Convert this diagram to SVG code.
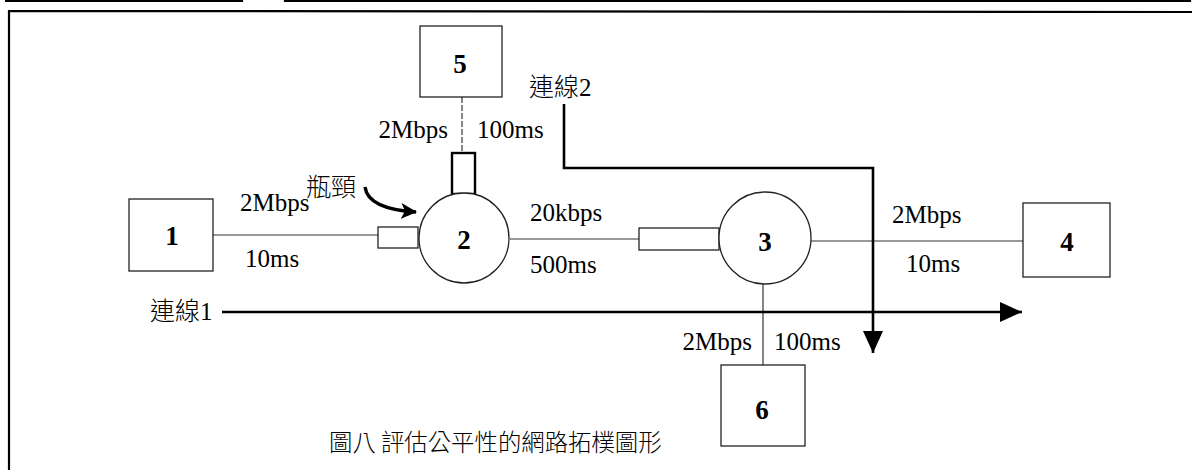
<svg xmlns="http://www.w3.org/2000/svg" width="1192" height="470" viewBox="0 0 1192 470">
<style>
text{font-family:"Liberation Serif","Times New Roman",serif;fill:#000}
.lbl{font-size:25px}
.cjk{font-family:"Noto Sans CJK TC","Noto Sans CJK SC",sans-serif;font-size:25px;font-weight:300}
.cap{font-family:"Noto Sans CJK TC","Noto Sans CJK SC",sans-serif;font-size:23.4px;font-weight:300}
.num{font-size:27px;font-weight:bold;text-anchor:middle;dominant-baseline:central}
.box{fill:#fff;stroke:#222;stroke-width:1.3}
.link{stroke:#333;stroke-width:1.2;fill:none}
.flow{stroke:#000;stroke-width:2.6;fill:none}
.frame{stroke:#000;stroke-width:2.2;fill:none}
</style>
<defs>
<marker id="ah" viewBox="0 0 16 16" refX="15" refY="8" markerWidth="16" markerHeight="16" orient="auto" markerUnits="userSpaceOnUse">
<path d="M0,0 L16,8 L0,16 L4,8 Z" fill="#000"/>
</marker>
<marker id="big" viewBox="0 0 22 20" refX="22" refY="10" markerWidth="22" markerHeight="20" orient="auto" markerUnits="userSpaceOnUse">
<path d="M0,0 L22,10 L0,20 Z" fill="#000"/>
</marker>
</defs>
<rect width="1192" height="470" fill="#fff"/>
<g id="frame">
<path class="frame" d="M5,1 L242,1 L242,-2"/>
<path class="frame" d="M285,-2 L285,1 L1190,1 L1190,-2"/>
<path class="frame" d="M9,470 L9,11 L1192,12"/>
</g>
<g id="connectors">
<line class="link" x1="213" y1="235" x2="378" y2="235"/>
<line class="link" x1="510" y1="239" x2="639" y2="239"/>
<line class="link" x1="811" y1="241" x2="1023" y2="241"/>
<line class="link" x1="462" y1="97" x2="462" y2="153" stroke-dasharray="6,2"/>
<line class="link" x1="763" y1="284" x2="763" y2="365"/>
<path class="flow" d="M222,312 L1022,312" marker-end="url(#big)"/>
<path class="flow" d="M564,104 L564,168 L873,168 L873,353" marker-end="url(#big)"/>
<path d="M365,187 Q368,209 416,212" stroke="#000" stroke-width="3.4" fill="none" marker-end="url(#ah)"/>
</g>
<g id="node1"><rect class="box" x="129" y="199" width="84" height="72"/><text class="num" x="172" y="236">1</text></g>
<g id="node2">
<rect class="box" x="378" y="227" width="40" height="21"/>
<rect x="452" y="153" width="23" height="41" fill="#fff" stroke="#000" stroke-width="2.4"/>
<circle class="box" cx="464" cy="238" r="45"/>
<text class="num" x="464" y="240">2</text>
</g>
<g id="node3">
<rect class="box" x="639" y="228" width="80" height="22"/>
<circle class="box" cx="765" cy="238" r="46"/>
<text class="num" x="765" y="242">3</text>
</g>
<g id="node4"><rect class="box" x="1023" y="203" width="87" height="74"/><text class="num" x="1067" y="242">4</text></g>
<g id="node5"><rect class="box" x="420" y="26" width="82" height="71"/><text class="num" x="460" y="64">5</text></g>
<g id="node6"><rect class="box" x="721" y="365" width="84" height="81"/><text class="num" x="762" y="410">6</text></g>
<g id="labels">
<text class="lbl" x="240" y="211">2Mbps</text>
<text class="lbl" x="245" y="267">10ms</text>
<text class="cjk" x="306" y="196">瓶頸</text>
<text class="lbl" x="448" y="138" text-anchor="end">2Mbps</text>
<text class="lbl" x="477" y="138">100ms</text>
<text class="cjk" x="529" y="96">連線<tspan font-family="Liberation Serif" font-weight="normal">2</tspan></text>
<text class="lbl" x="530" y="221">20kbps</text>
<text class="lbl" x="530" y="273">500ms</text>
<text class="lbl" x="892" y="223">2Mbps</text>
<text class="lbl" x="906" y="272">10ms</text>
<text class="cjk" x="150" y="320">連線<tspan font-family="Liberation Serif" font-weight="normal">1</tspan></text>
<text class="lbl" x="752" y="350" text-anchor="end">2Mbps</text>
<text class="lbl" x="774" y="350">100ms</text>
<text class="cap" x="329" y="451">圖八 評估公平性的網路拓樸圖形</text>
</g>
</svg>
